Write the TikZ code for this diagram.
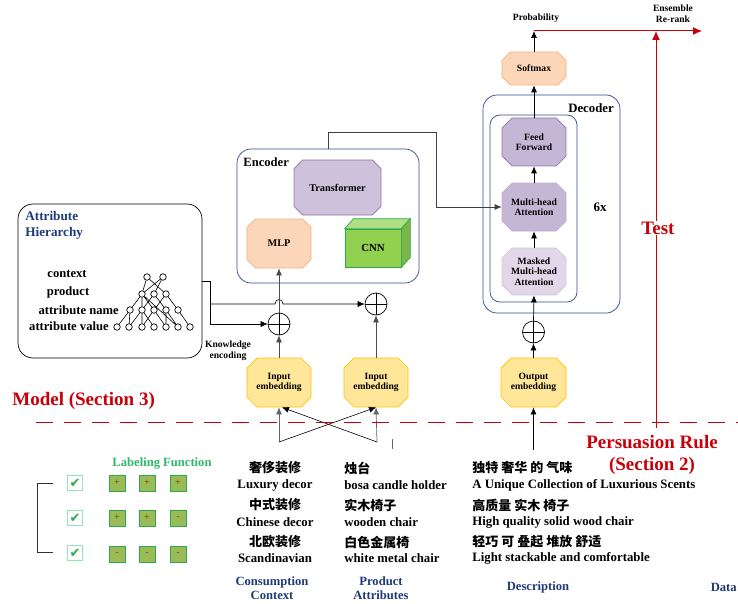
\documentclass[tikz,border=0pt]{standalone}
\usepackage{fontspec}
\setmainfont{Liberation Serif}
\newfontfamily\cjk{Noto Sans CJK SC}
\newfontfamily\dejavu{DejaVu Sans}
\usetikzlibrary{arrows.meta,shapes.misc,positioning}

\definecolor{navy}{HTML}{1F3A78}
\definecolor{boxblue}{HTML}{2E4A87}
\definecolor{redline}{HTML}{C8000A}
\definecolor{lav}{HTML}{CDC1DC}
\definecolor{lavdark}{HTML}{C6B6D6}
\definecolor{lavlight}{HTML}{E1D7E8}
\definecolor{lavedge}{HTML}{9673A6}
\definecolor{peach}{HTML}{FBD6B8}
\definecolor{peachedge}{HTML}{F4B183}
\definecolor{yel}{HTML}{FFE699}
\definecolor{yeledge}{HTML}{FFC000}
\definecolor{cnnfront}{HTML}{92D050}
\definecolor{cnnside}{HTML}{7AB648}
\definecolor{cnntop}{HTML}{B0DE84}
\definecolor{cnnedge}{HTML}{2CA94F}
\definecolor{lfgreen}{HTML}{2DB867}
\definecolor{sqfill}{HTML}{9BBB59}
\definecolor{sqtext}{HTML}{7A6000}
\definecolor{cbedge}{HTML}{8EE6B4}

\tikzset{
  octa/.style={chamfered rectangle, chamfered rectangle xsep=5, chamfered rectangle ysep=5,
    draw, inner sep=0pt, align=center, font=\bfseries\fontsize{9.6}{10.5}\selectfont},
  bigbox/.style={draw=boxblue, rounded corners=14, inner sep=0pt},
  plusc/.style={circle, draw, inner sep=0pt, minimum size=22},
  tn/.style={circle, draw, inner sep=0pt, minimum size=6.5, fill=white},
  lbl/.style={font=\bfseries\fontsize{9.6}{10.8}\selectfont, inner sep=0pt, align=center},
  txt/.style={font=\bfseries\fontsize{12.8}{14}\selectfont, inner sep=0pt},
  attr/.style={font=\bfseries\fontsize{12.6}{14}\selectfont, inner sep=0pt},
  cn/.style={font=\cjk\bfseries\fontsize{13}{14}\selectfont, inner sep=0pt},
  head/.style={font=\bfseries\fontsize{12.6}{14.5}\selectfont, text=navy, inner sep=0pt, align=center},
  redtxt/.style={font=\bfseries\fontsize{19}{22}\selectfont, text=redline, inner sep=0pt, align=center},
  arr/.style={-{Latex[length=7,width=6]}},
  sq/.style={draw=cnnedge, fill=sqfill, minimum size=16, inner sep=0pt, text=sqtext, font=\bfseries\fontsize{10}{10}\selectfont},
  cbox/.style={draw=cbedge, line width=1.2pt, minimum size=15, inner sep=0pt, text=cnnedge, font=\dejavu\fontsize{13}{13}\selectfont},
}

\begin{document}
\begin{tikzpicture}[x=1pt, y=-1pt, line width=0.7pt]
  \useasboundingbox (0,0) rectangle (738,604);

  % attribute hierarchy
  \node[draw, rounded corners=15, minimum width=184, minimum height=154, inner sep=0pt] (ah) at (110,281) {};
  \node[head, anchor=west, align=left, font=\bfseries\fontsize{13.2}{16}\selectfont] (ahtitle) at (25,225) {Attribute\\Hierarchy};
  \node[attr] (lctx) at (67,274) {context};
  \node[attr] (lprod) at (68,292) {product};
  \node[attr, anchor=east] (lname) at (119,310) {attribute name};
  \node[attr, anchor=east] (lval) at (109,326) {attribute value};

  \node[tn] (c1) at (147,277) {};
  \node[tn] (c2) at (163,277) {};
  \node[tn] (p1) at (142,294) {};
  \node[tn] (p2) at (154,294) {};
  \node[tn] (p3) at (166,294) {};
  \node[tn] (a1) at (130,310) {};
  \node[tn] (a2) at (142,310) {};
  \node[tn] (a3) at (154,310) {};
  \node[tn] (a4) at (166,310) {};
  \node[tn] (a5) at (178,310) {};
  \node[tn] (v1) at (117,327) {};
  \node[tn] (v2) at (129,327) {};
  \node[tn] (v3) at (142,327) {};
  \node[tn] (v4) at (154,327) {};
  \node[tn] (v5) at (166,327) {};
  \node[tn] (v6) at (178,327) {};
  \node[tn] (v7) at (190,327) {};
  \draw[line width=0.6pt] (c1) -- (p1) (c1) -- (p3) (c2) -- (p2) (c2) -- (p1)
    (p1) -- (a1) (p1) -- (a2) (p1) -- (a3) (p2) -- (a2) (p2) -- (a4) (p3) -- (a3) (p3) -- (a5)
    (a1) -- (v1) (a1) -- (v2) (a2) -- (v2) (a2) -- (v3) (a2) -- (v4) (a3) -- (v3) (a3) -- (v5)
    (a4) -- (v5) (a4) -- (v6) (a5) -- (v7) (p1) -- (v6);

  % encoder
  \node[bigbox, minimum width=182, minimum height=134] (enc) at (328,216) {};
  \node[font=\bfseries\fontsize{12.6}{14}\selectfont, inner sep=0pt, anchor=west] (enclbl) at (243,162) {Encoder};
  \node[octa, fill=lav, draw=lavedge, minimum width=87, minimum height=55, font=\bfseries\fontsize{10.3}{11}\selectfont] (trf) at (337.5,187.5) {Transformer};
  \node[octa, fill=peach, draw=peachedge, minimum width=64, minimum height=49, font=\bfseries\fontsize{10.3}{11}\selectfont] (mlp) at (279,243.5) {MLP};
  \node[draw=cnnedge, fill=cnnfront, minimum width=56, minimum height=38, inner sep=0pt, font=\bfseries\fontsize{10.8}{11}\selectfont] (cnn) at (373,248) {CNN};
  \draw[draw=cnnedge, fill=cnntop] (cnn.north west) -- ([shift={(9,-10)}]cnn.north west) -- ([shift={(9,-10)}]cnn.north east) -- (cnn.north east) -- cycle;
  \draw[draw=cnnedge, fill=cnnside] (cnn.north east) -- ([shift={(9,-10)}]cnn.north east) -- ([shift={(9,-10)}]cnn.south east) -- (cnn.south east) -- cycle;

  % decoder
  \node[bigbox, minimum width=137, minimum height=218] (dec) at (551.5,204) {};
  \node[bigbox, rounded corners=10, minimum width=87, minimum height=187] (decin) at (533.5,208.5) {};
  \node[font=\bfseries\fontsize{12.8}{14}\selectfont, inner sep=0pt] (declbl) at (591,108) {Decoder};
  \node[font=\bfseries\fontsize{13}{14}\selectfont, inner sep=0pt] (six) at (600,207) {6x};
  \node[octa, fill=lavdark, draw=lavedge, minimum width=64, minimum height=48] (ff) at (534,142) {Feed\\Forward};
  \node[octa, fill=lavdark, draw=lavedge!60, minimum width=64, minimum height=48] (mha) at (534,207) {Multi-head\\Attention};
  \node[octa, fill=lavlight, draw=lavedge!40, minimum width=64, minimum height=47] (mmha) at (534,271.5) {Masked\\Multi-head\\Attention};
  \node[octa, fill=peach, draw=peachedge, minimum width=64, minimum height=33] (soft) at (534,68.5) {Softmax};
  \node[lbl] (prob) at (536,18) {Probability};
  \coordinate (pr) at (534,31);

  % embeddings
  \node[octa, fill=yel, draw=yeledge, minimum width=64, minimum height=49] (in1) at (279,382.5) {Input\\embedding};
  \node[octa, fill=yel, draw=yeledge, minimum width=64, minimum height=49] (in2) at (376,382.5) {Input\\embedding};
  \node[octa, fill=yel, draw=yeledge, minimum width=65, minimum height=49] (outemb) at (533.5,382.5) {Output\\embedding};
  \node[plusc] (plus1) at (279,324) {};
  \node[plusc] (plus2) at (376,304) {};
  \node[plusc] (plus3) at (533.5,332) {};
  \draw (plus1.north) -- (plus1.south) (plus1.west) -- (plus1.east);
  \draw (plus2.north) -- (plus2.south) (plus2.west) -- (plus2.east);
  \draw (plus3.north) -- (plus3.south) (plus3.west) -- (plus3.east);

  % knowledge encoding
  \coordinate (k1) at (210,304);
  \coordinate (k2) at (210,324);
  \coordinate (hopl) at (275,304);
  \coordinate (hopr) at (283,304);
  \draw[arr, line width=0.6pt] (ah.east) -| (k2) -- (plus1.west);
  \draw[arr, line width=0.6pt] (k1) -- (hopl) .. controls +(0,-6) and +(0,-6) .. (hopr) -- (plus2.west);
  \node[lbl] (kenc) at (228,351) {Knowledge\\encoding};

  % main arrows
  \draw[arr, black!70] (in1.north) -- (plus1.south);
  \draw[arr, black!70] (plus1.north) -- (mlp.south);
  \draw[arr, black!70] (in2.north) -- (plus2.south);
  \draw[arr] (outemb.north) -- (plus3.south);
  \draw[arr] (plus3.north) -- (mmha.south);
  \draw[arr] (mmha.north) -- (mha.south);
  \draw[arr] (mha.north) -- (ff.south);
  \draw[arr] (ff.north) -- (soft.south);
  \draw[arr] (soft.north) -- (pr);
  \coordinate (t1) at (436,132);
  \draw[arr, black!75] (enc.north) |- (t1) |- (mha.west);

  % inputs
  \coordinate (s1) at (279,442);
  \coordinate (s2) at (377,442);
  \coordinate (s3) at (533.5,450);
  \coordinate (m1) at (392,439);
  \coordinate (m2) at (392,449);
  \draw[arr, black!60] (s1) -- (in1.south);
  \draw[arr, black!60] (s2) -- (in2.south);
  \draw[arr, line width=0.6pt] (s1) -- (in2.south);
  \draw[arr, line width=0.6pt] (s2) -- ([xshift=3]in1.south);
  \draw[arr] (s3) -- (outemb.south);
  \draw[black!60] (m1) -- (m2);

  % red parts
  \coordinate (rr) at (702,31);
  \coordinate (tt) at (656,31);
  \coordinate (tb) at (656,428);
  \coordinate (d1) at (36,422);
  \coordinate (d2) at (740,422);
  \draw[redline, line width=1pt, dash pattern=on 17 off 11] (d1) -- (d2);
  \draw[redline, line width=1pt, -{Latex[length=9,width=8]}] (pr) -- (rr);
  \draw[redline, line width=1pt, -{Latex[length=9,width=8]}] (tb) -- (tt);
  \node[lbl] (ens) at (673,14) {Ensemble\\Re-rank};
  \node[redtxt, fill=white, inner sep=1pt] (test) at (658,228) {Test};
  \node[redtxt, anchor=west] (model) at (12,401) {Model (Section 3)};
  \node[redtxt] (rule) at (652,455) {Persuasion Rule\\(Section 2)};

  % labeling function
  \node[font=\bfseries\fontsize{12.6}{14}\selectfont, text=lfgreen, inner sep=0pt] (lf) at (162,464) {Labeling Function};
  \node[cbox] (cb1) at (75,483) {✔};
  \node[cbox] (cb2) at (75,518) {✔};
  \node[cbox] (cb3) at (75,553) {✔};
  \node[sq] (q11) at (117,483) {+};
  \node[sq] (q12) at (147,483) {+};
  \node[sq] (q13) at (178,483) {+};
  \node[sq] (q21) at (117,518) {+};
  \node[sq] (q22) at (147,518) {+};
  \node[sq] (q23) at (178,518) {-};
  \node[sq] (q31) at (117,554) {-};
  \node[sq] (q32) at (147,554) {-};
  \node[sq] (q33) at (178,554) {-};
  \coordinate (b1) at (53,483);
  \coordinate (b2) at (37,483);
  \coordinate (b3) at (37,552);
  \coordinate (b4) at (53,552);
  \draw[black!80, line width=0.9pt] (b1) -- (b2) -- (b3) -- (b4);

  % data columns
  \node[cn] (z11) at (275,468) {奢侈装修};
  \node[txt] (e11) at (275,485) {Luxury decor};
  \node[cn] (z12) at (275,505) {中式装修};
  \node[txt] (e12) at (275,522) {Chinese decor};
  \node[cn] (z13) at (275,542) {北欧装修};
  \node[txt] (e13) at (275,558) {Scandinavian};
  \node[head] (h1) at (272,588) {Consumption\\Context};

  \node[cn, anchor=west] (z21) at (344,468) {烛台};
  \node[txt, anchor=west] (e21) at (344,485) {bosa candle holder};
  \node[cn, anchor=west] (z22) at (344,505) {实木椅子};
  \node[txt, anchor=west] (e22) at (344,522) {wooden chair};
  \node[cn, anchor=west] (z23) at (344,542) {白色金属椅};
  \node[txt, anchor=west] (e23) at (344,558) {white metal chair};
  \node[head] (h2) at (381,588) {Product\\Attributes};

  \node[cn, anchor=west] (z31) at (472,468) {独特 奢华 的 气味};
  \node[txt, anchor=west] (e31) at (472,485) {A Unique Collection of Luxurious Scents};
  \node[cn, anchor=west] (z32) at (472,505) {高质量 实木 椅子};
  \node[txt, anchor=west] (e32) at (472,522) {High quality solid wood chair};
  \node[cn, anchor=west] (z33) at (472,542) {轻巧 可 叠起 堆放 舒适};
  \node[txt, anchor=west] (e33) at (472,558) {Light stackable and comfortable};
  \node[head] (h3) at (538,587) {Description};
  \node[head, anchor=east] (h4) at (737,587) {Data};
\end{tikzpicture}
\end{document}
